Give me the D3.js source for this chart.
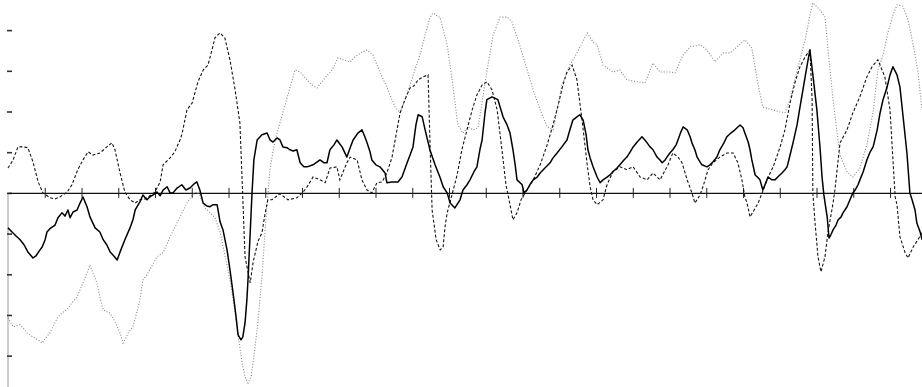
<!DOCTYPE html>
<html>
<head>
<meta charset="utf-8">
<script src="https://cdn.jsdelivr.net/npm/d3@7"></script>
<style>
  html, body { margin: 0; padding: 0; background: #fff; }
  svg { display: block; }
</style>
</head>
<body>
<svg id="chart" width="922" height="387"></svg>
<script>
// ---- data (time units: one x tick = 10; value units: one y tick = 1) ----
const xTicks = d3.range(0, 250, 10);
const yTicks = [-4, -3, -2, -1, 0, 1, 2, 3, 4];

const solidT = [0.0,1.1,2.2,3.3,4.4,5.4,6.8,7.6,8.7,9.3,10.1,10.6,11.4,12.8,13.6,14.7,15.5,16.3,16.9,17.7,18.8,19.6,20.4,21.5,22.3,23.7,25.0,25.9,26.9,27.8,28.8,29.7,30.5,31.8,33.2,34.0,34.6,35.9,36.7,37.8,38.6,39.5,40.5,41.4,42.2,43.3,44.1,44.9,46.0,47.3,48.4,49.5,50.6,51.4,52.2,53.1,54.1,55.0,55.8,56.9,57.7,58.5,59.6,60.4,61.2,62.0,62.6,63.4,63.9,64.5,65.0,65.3,65.9,66.4,66.9,67.8,69.1,70.5,71.3,72.1,73.2,74.0,74.8,75.9,76.7,77.6,78.6,79.5,80.5,81.4,83.0,84.9,86.0,86.8,87.6,88.7,89.5,90.3,90.9,92.2,93.1,93.9,95.2,96.3,97.1,97.7,98.5,99.0,100.1,101.2,102.6,103.1,104.5,106.1,107.2,108.6,109.4,110.2,111.0,111.6,112.7,113.5,114.8,116.2,117.6,118.4,119.5,120.3,121.6,123.0,123.8,124.9,125.7,126.8,127.6,128.4,129.0,129.8,130.3,131.7,133.3,134.7,135.8,136.6,137.4,138.0,138.5,139.9,140.4,141.2,142.0,142.9,144.0,144.8,146.1,147.5,148.3,149.4,150.7,152.1,152.9,153.7,154.8,155.6,156.5,157.3,157.8,158.4,159.2,160.3,161.1,161.9,163.0,163.8,164.6,165.7,166.5,167.6,168.4,169.3,170.1,171.2,172.5,173.3,173.9,174.7,175.5,176.6,177.4,178.0,178.8,179.3,180.1,180.9,181.8,182.3,183.1,183.7,184.8,185.6,186.1,186.9,187.5,188.3,188.8,190.2,191.0,191.8,192.9,193.7,194.8,195.6,196.7,197.8,198.6,199.2,200.0,200.5,201.4,201.9,202.4,203.3,204.1,204.6,205.4,206.3,206.8,207.9,208.7,209.8,210.6,211.4,212.0,212.8,213.6,214.7,215.5,216.3,216.9,217.7,218.2,219.0,220.1,221.0,221.5,222.0,222.6,222.9,223.4,223.9,224.5,225.3,225.9,226.7,227.2,228.3,229.1,229.9,230.5,231.3,231.8,232.7,233.7,234.6,235.4,236.5,237.3,238.1,239.2,240.0,240.8,241.9,242.7,243.5,244.6,245.4,246.0,246.8,247.3,248.2,248.7];
const solidV = [-0.86,-0.96,-1.06,-1.15,-1.28,-1.45,-1.60,-1.55,-1.40,-1.33,-1.15,-0.96,-0.88,-0.79,-0.61,-0.49,-0.57,-0.42,-0.61,-0.47,-0.42,-0.25,-0.10,-0.34,-0.59,-0.86,-0.96,-1.15,-1.28,-1.45,-1.55,-1.65,-1.45,-1.15,-0.86,-0.66,-0.42,-0.22,-0.05,-0.17,-0.10,-0.05,0.02,-0.07,0.07,0.15,0.00,0.00,0.12,0.20,0.07,0.12,0.22,0.27,0.07,-0.25,-0.32,-0.34,-0.29,-0.29,-0.71,-0.91,-1.40,-1.89,-2.43,-3.00,-3.49,-3.61,-3.54,-3.19,-2.63,-2.14,-0.98,0.00,0.81,1.30,1.43,1.47,1.30,1.25,1.35,1.30,1.13,1.11,1.06,1.03,1.06,0.74,0.64,0.64,0.69,0.81,0.74,0.74,1.06,1.18,1.30,1.20,1.13,0.88,1.11,1.30,1.47,1.55,1.38,1.23,1.01,0.81,0.69,0.64,0.49,0.25,0.27,0.27,0.39,0.74,0.93,1.13,1.67,1.92,1.87,1.55,1.06,0.69,0.37,0.15,0.00,-0.25,-0.37,-0.17,0.07,0.20,0.32,0.52,0.64,1.06,1.30,1.97,2.29,2.36,2.29,1.87,1.67,1.47,1.06,0.69,0.32,0.20,0.00,0.07,0.20,0.32,0.39,0.49,0.61,0.74,0.86,0.98,1.13,1.30,1.55,1.79,1.87,1.92,1.79,1.43,1.06,0.86,0.64,0.39,0.25,0.32,0.39,0.44,0.52,0.61,0.69,0.81,0.88,1.01,1.13,1.25,1.38,1.30,1.23,1.13,1.06,0.88,0.81,0.74,0.81,0.88,0.98,1.06,1.18,1.30,1.50,1.62,1.55,1.38,1.23,1.06,0.88,0.76,0.69,0.64,0.69,0.76,0.88,1.06,1.23,1.38,1.47,1.55,1.62,1.67,1.60,1.47,1.25,1.06,0.81,0.44,0.37,0.32,0.07,0.27,0.39,0.32,0.32,0.42,0.49,0.57,0.64,0.93,1.23,1.67,2.11,2.53,2.85,3.27,3.51,2.90,2.04,1.06,0.39,-0.05,-0.42,-0.59,-1.11,-1.03,-0.91,-0.79,-0.66,-0.59,-0.49,-0.34,-0.17,0.00,0.07,0.20,0.32,0.52,0.81,1.01,1.13,1.55,1.97,2.29,2.60,2.90,3.10,2.90,2.60,1.92,0.98,0.00,-0.17,-0.42,-0.74,-0.96,-1.15];

const dashT = [0.0,1.4,2.7,4.1,5.4,6.8,8.2,9.5,11.4,12.8,14.1,16.1,17.4,19.0,20.4,21.8,23.1,25.0,26.9,28.3,29.1,30.5,31.8,33.2,34.6,35.9,37.3,38.6,40.0,41.4,42.2,44.1,45.4,46.8,47.3,48.7,50.1,51.7,53.1,54.4,55.5,56.3,57.7,59.0,60.4,61.8,63.1,63.7,64.5,65.9,66.7,68.0,69.1,69.9,70.7,71.8,74.0,76.2,78.6,80.3,81.4,83.0,84.9,86.3,87.6,89.5,90.3,92.2,93.1,95.0,96.3,97.7,99.0,100.4,101.8,103.1,104.5,105.6,106.7,108.0,109.4,110.5,111.6,112.9,114.3,114.8,115.4,116.5,117.6,118.4,118.9,119.5,120.8,122.2,123.5,124.9,126.3,127.6,129.0,130.3,131.7,133.1,134.4,135.5,136.6,137.4,138.5,139.6,141.2,142.9,144.8,146.7,148.3,149.7,151.0,152.1,153.5,154.8,156.2,157.6,158.4,159.2,160.3,161.9,163.0,164.6,166.5,168.4,170.1,172.0,173.9,175.5,177.4,179.6,180.9,182.3,183.4,184.8,186.1,186.9,188.3,189.1,190.5,191.8,193.7,195.6,197.3,198.6,199.7,200.5,201.1,201.9,202.7,204.1,205.2,206.5,208.2,210.1,211.4,212.8,214.1,215.5,216.9,218.2,218.8,219.0,219.6,220.4,221.2,222.3,223.1,224.5,225.0,226.4,228.3,229.9,231.8,233.7,235.1,236.7,238.6,240.0,240.8,241.4,241.9,242.7,244.1,244.9,246.3,247.6,248.7];
const dashV = [0.61,0.81,1.13,1.13,1.11,0.76,0.27,0.00,-0.12,-0.15,-0.10,0.02,0.20,0.57,0.81,1.01,0.93,0.98,1.13,1.23,1.06,0.49,0.02,-0.17,-0.25,-0.17,-0.15,-0.07,0.02,0.27,0.69,0.86,1.01,1.30,1.43,2.04,2.21,2.73,3.02,3.14,3.51,3.81,3.93,3.81,3.27,2.53,1.72,0.32,-1.57,-2.21,-1.70,-1.20,-0.98,-0.54,-0.17,-0.17,-0.02,-0.17,-0.12,0.02,0.15,0.39,0.32,0.25,0.61,0.64,0.32,0.74,0.88,0.81,0.32,0.07,0.00,0.25,0.27,0.49,0.88,1.43,1.97,2.29,2.58,2.63,2.78,2.85,2.90,1.30,-0.42,-1.15,-1.40,-1.33,-0.84,-0.49,-0.05,0.44,1.06,1.55,2.04,2.41,2.65,2.73,2.53,2.04,1.06,0.20,-0.29,-0.66,-0.49,-0.17,0.07,0.32,0.69,1.18,1.67,2.16,2.65,2.97,3.14,2.78,1.79,0.69,0.15,-0.17,-0.29,-0.17,0.20,0.52,0.64,0.57,0.64,0.39,0.32,0.49,0.32,0.69,0.98,0.88,0.74,0.32,0.00,-0.25,-0.05,0.15,0.57,0.74,0.88,0.98,0.98,0.74,0.32,-0.10,-0.25,-0.59,-0.47,-0.25,0.00,0.32,0.64,1.13,1.55,2.21,2.70,3.10,3.34,3.51,2.29,0.00,-0.74,-1.57,-1.94,-1.57,-0.98,-0.25,0.07,1.23,1.55,1.97,2.36,2.85,3.10,3.27,2.85,2.04,0.81,-0.10,-0.29,-1.08,-1.47,-1.60,-1.33,-1.15,-0.98];

const dotT = [0.0,1.4,3.3,5.2,6.8,8.2,9.3,10.3,11.4,12.5,13.6,14.7,16.1,17.4,18.8,20.4,21.5,22.3,23.1,24.2,25.0,25.9,26.9,27.8,29.1,30.5,31.3,32.1,32.7,34.0,35.1,35.9,36.7,37.8,38.6,40.5,42.2,44.1,46.0,46.8,48.7,50.1,51.4,52.2,53.6,55.0,56.3,57.7,59.0,60.1,61.0,62.3,63.7,64.5,65.3,66.1,66.7,68.0,69.1,69.9,70.5,71.3,72.7,74.0,75.4,76.7,78.1,79.5,81.4,82.7,84.1,86.3,88.2,89.8,91.2,93.1,94.4,96.3,97.7,99.3,101.2,103.4,105.3,106.7,108.0,109.4,110.7,112.1,113.5,114.8,115.6,117.6,119.5,121.1,122.4,123.8,125.2,126.5,127.9,129.3,130.6,132.0,133.9,135.8,137.1,138.8,140.7,142.9,144.8,146.7,148.3,149.7,150.7,152.9,154.8,157.6,159.2,160.3,161.9,164.6,166.5,168.4,171.2,173.3,175.5,177.4,180.1,181.5,183.7,185.6,188.3,190.2,192.4,194.6,196.5,198.4,200.5,202.4,204.1,205.4,208.2,210.1,211.4,212.8,214.1,215.5,216.9,218.2,219.0,220.9,222.3,223.4,224.5,225.6,226.4,228.3,229.9,231.8,233.7,235.4,236.7,238.1,239.5,240.8,241.9,243.5,244.9,246.3,247.6,248.7];
const dotV = [-3.07,-3.29,-3.24,-3.44,-3.54,-3.61,-3.69,-3.56,-3.44,-3.24,-3.05,-2.95,-2.87,-2.70,-2.56,-2.21,-1.97,-1.77,-1.97,-2.21,-2.56,-2.87,-2.92,-2.95,-3.17,-3.44,-3.69,-3.56,-3.44,-3.29,-2.92,-2.63,-2.14,-2.01,-1.89,-1.57,-1.47,-1.08,-0.74,-0.59,-0.25,-0.05,0.02,-0.07,-0.37,-0.49,-0.61,-0.96,-1.52,-2.01,-2.46,-3.29,-4.18,-4.52,-4.67,-4.52,-4.18,-3.19,-2.06,-0.98,-0.29,0.61,1.30,1.72,2.16,2.58,3.02,2.97,2.78,2.65,2.58,2.83,3.02,3.32,3.27,3.22,3.34,3.46,3.51,3.39,2.97,2.53,2.11,1.97,2.29,2.65,3.02,3.39,3.88,4.30,4.42,4.30,3.64,2.60,1.67,1.47,1.62,1.55,1.60,2.41,3.14,3.88,4.32,4.32,4.20,3.76,3.19,2.53,2.04,1.62,1.55,2.16,2.65,3.14,3.44,3.93,3.71,3.64,3.14,2.97,3.02,2.78,2.73,2.70,3.19,2.97,2.97,2.95,3.39,3.59,3.64,3.51,3.22,3.44,3.44,3.59,3.76,3.56,2.65,2.11,2.04,1.99,1.97,2.29,2.78,3.27,3.76,4.37,4.67,4.50,4.32,3.27,2.29,1.47,0.93,0.52,0.39,0.61,1.18,1.99,3.02,3.39,3.96,4.37,4.62,4.59,4.25,3.64,2.97,2.04];

// ---- drawing ----
const W = 922, H = 387;
const svg = d3.select("#chart");

const x = d3.scaleLinear().domain([0, 248.7]).range([8, 922]);
const y = d3.scaleLinear().domain([-4.77, 4.74]).range([H, 0]);

// left axis line (lower half visible in the original scan)
svg.append("line")
  .attr("x1", x(0)).attr("x2", x(0))
  .attr("y1", y(0)).attr("y2", H)
  .attr("stroke", "#9a9a9a").attr("stroke-width", 1);

// left ticks
const yAxis = d3.axisRight(y).tickValues(yTicks).tickSize(5).tickFormat("");
const gy = svg.append("g").attr("transform", `translate(${x(0) - 1},0)`).call(yAxis);
gy.select(".domain").remove();
gy.selectAll(".tick line").attr("stroke", "#333").attr("stroke-width", 1.6);

// zero axis with crossing ticks
const xAxis = d3.axisBottom(x).tickValues(xTicks.filter(d => d > 0)).tickSize(5).tickSizeOuter(0).tickFormat("");
const gx = svg.append("g").attr("transform", `translate(0,${y(0)})`).call(xAxis);
gx.select(".domain").attr("stroke", "#111").attr("stroke-width", 1.3);
gx.selectAll(".tick line").attr("y1", -5).attr("y2", 5).attr("stroke", "#222").attr("stroke-width", 1);

const line = d3.line().x(d => x(d[0])).y(d => y(d[1]));
const zip = (a, b) => a.map((t, i) => [t, b[i]]);

svg.append("path")
  .datum(zip(dotT, dotV))
  .attr("d", line)
  .attr("fill", "none")
  .attr("stroke", "#858585")
  .attr("stroke-width", 1.1)
  .attr("stroke-dasharray", "1,1.8");

svg.append("path")
  .datum(zip(dashT, dashV))
  .attr("d", line)
  .attr("fill", "none")
  .attr("stroke", "#151515")
  .attr("stroke-width", 1.1)
  .attr("stroke-dasharray", "3,2");

svg.append("path")
  .datum(zip(solidT, solidV))
  .attr("d", line)
  .attr("fill", "none")
  .attr("stroke", "#000")
  .attr("stroke-width", 1.5)
  .attr("stroke-linejoin", "round");
</script>
</body>
</html>
